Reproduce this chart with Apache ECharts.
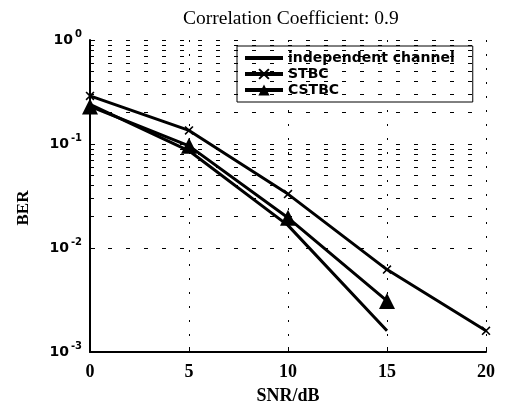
<!DOCTYPE html>
<html>
<head>
    <meta charset="utf-8">
    <title>Correlation Coefficient: 0.9</title>
    <style>
        html, body { margin: 0; padding: 0; background: #fff; }
        #main { width: 517px; height: 410px; }
    </style>
</head>
<body>
<div id="main"></div>
<script src="https://cdn.jsdelivr.net/npm/echarts@6/dist/echarts.min.js"></script>
<script type="text/javascript">
    // 数据
    var snrTicks = [0, 5, 10, 15, 20];
    var snrIndep = [0, 5, 10, 15];
    var berIndep = [0.24, 0.086, 0.0165, 0.0016];
    var snrStbc = [0, 5, 10, 15, 20];
    var berStbc = [0.29, 0.135, 0.033, 0.0062, 0.0016];
    var snrCstbc = [0, 5, 10, 15];
    var berCstbc = [0.23, 0.096, 0.0195, 0.0031];
    // 对数坐标的次网格线
    var minorGrid = [];
    [0.001, 0.01, 0.1].forEach(function (d) {
        for (var k = 2; k <= 9; k++) minorGrid.push(+(d * k).toPrecision(3));
    });

    function pairs(xs, ys) {
        return xs.map(function (x, i) { return [x, ys[i]]; });
    }

    var serif = 'Liberation Serif, Times New Roman, serif';
    var sans = 'DejaVu Sans, sans-serif';
    var xMark = 'path://M0,1L1,0L4,3L7,0L8,1L5,4L8,7L7,8L4,5L1,8L0,7L3,4Z';

    var myChart = echarts.init(document.getElementById('main'));
    var option = {
        animation: false,
        backgroundColor: '#fff',
        title: {
            text: 'Correlation Coefficient: 0.9',
            left: 178,
            top: 4,
            textStyle: { fontFamily: serif, fontSize: 19.5, fontWeight: 'normal', color: '#000' }
        },
        legend: {
            data: [
                { name: 'independent channel', itemStyle: { opacity: 0 } },
                { name: 'STBC' },
                { name: 'CSTBC' }
            ],
            orient: 'vertical',
            left: 237,
            top: 46,
            padding: [5, 18, 5, 6],
            itemGap: 2,
            itemWidth: 38,
            itemHeight: 14,
            backgroundColor: '#fff',
            borderColor: '#000',
            borderWidth: 1,
            lineStyle: { width: 4 },
            textStyle: { fontFamily: sans, fontSize: 14, fontWeight: 'bold', color: '#000' }
        },
        grid: { left: 90, right: 31, top: 40, bottom: 55 },
        xAxis: {
            type: 'value',
            min: 0,
            max: 20,
            interval: 5,
            name: 'SNR/dB',
            nameLocation: 'middle',
            nameGap: 35,
            nameTextStyle: { fontFamily: serif, fontSize: 18, fontWeight: 'bold', color: '#000' },
            axisLine: { lineStyle: { color: '#000', width: 2 } },
            axisTick: { inside: true, length: 5, lineStyle: { color: '#000' } },
            axisLabel: { fontFamily: serif, fontSize: 18, fontWeight: 'bold', color: '#000', margin: 11 },
            splitLine: { show: true, lineStyle: { color: '#000', type: [2, 12], width: 1 } }
        },
        yAxis: {
            type: 'log',
            logBase: 10,
            min: 0.001,
            max: 1,
            name: 'BER',
            nameLocation: 'middle',
            nameGap: 58,
            nameTextStyle: { fontFamily: serif, fontSize: 17, fontWeight: 'bold', color: '#000', padding: [0, 24, 0, 0] },
            axisLine: { lineStyle: { color: '#000', width: 2 } },
            axisTick: { inside: true, length: 5, lineStyle: { color: '#000' } },
            axisLabel: {
                margin: 8,
                formatter: function (v) {
                    return '{b|10}{s|' + Math.round(Math.log10(v)) + '}';
                },
                rich: {
                    b: { fontFamily: sans, fontSize: 14, fontWeight: 'bold', color: '#000' },
                    s: { fontFamily: sans, fontSize: 10, fontWeight: 'bold', color: '#000', padding: [0, 0, 11, 2] }
                }
            },
            splitLine: { show: true, lineStyle: { color: '#000', type: [4, 14], width: 1 } }
        },
        series: [
            {
                name: 'grid',
                type: 'line',
                data: [],
                silent: true,
                markLine: {
                    silent: true,
                    symbol: 'none',
                    label: { show: false },
                    lineStyle: { color: '#000', type: [4, 14], width: 1 },
                    data: minorGrid.map(function (v) { return { yAxis: v }; })
                }
            },
            {
                name: 'independent channel',
                type: 'line',
                data: pairs(snrIndep, berIndep),
                symbol: 'none',
                lineStyle: { color: '#000', width: 3 },
                itemStyle: { color: '#000' }
            },
            {
                name: 'STBC',
                type: 'line',
                data: pairs(snrStbc, berStbc),
                symbol: xMark,
                symbolSize: 9,
                lineStyle: { color: '#000', width: 3 },
                itemStyle: { color: '#000' }
            },
            {
                name: 'CSTBC',
                type: 'line',
                data: pairs(snrCstbc, berCstbc),
                symbol: 'triangle',
                symbolSize: 16,
                lineStyle: { color: '#000', width: 3 },
                itemStyle: { color: '#000' }
            }
        ]
    };
    myChart.setOption(option);
</script>
</body>
</html>
